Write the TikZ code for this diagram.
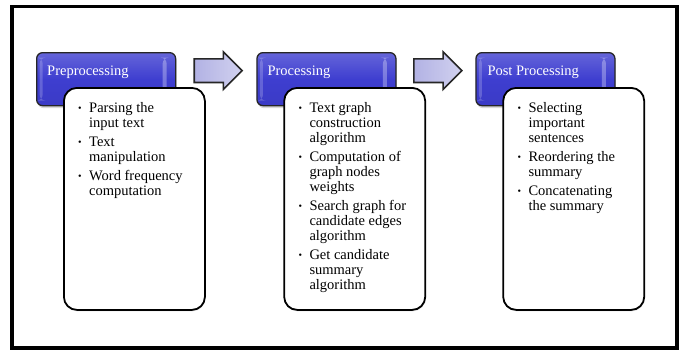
\documentclass[tikz,border=0pt]{standalone}
\usepackage{fontspec}
\setmainfont{Liberation Serif}
\usetikzlibrary{positioning}
\usetikzlibrary{calc}
\usetikzlibrary{shapes.arrows}
\usetikzlibrary{shadows}
\definecolor{headblue}{RGB}{62,62,208}
\definecolor{arrowlav}{RGB}{178,178,228}

% one bullet point, later lines hang under the text
\newcommand{\stepitem}[1]{\par\hangindent=11pt\hangafter=1\noindent\makebox[11pt][l]{\raisebox{1pt}{\fontsize{10}{10}\selectfont\textbullet}}#1\par}
\newcommand{\steplist}[1]{\parbox[t]{125pt}{\fontsize{14.5}{15}\selectfont\setlength{\parskip}{4pt}#1}}

\begin{document}
\begin{tikzpicture}[x=1pt, y=-1pt,
  frame/.style={draw=black, line width=3.5pt},
  head/.style={draw=black!85, line width=1.3pt, rounded corners=6pt,
    top color=headblue!80!white, bottom color=headblue!95!black, middle color=headblue,
    minimum width=139pt, minimum height=53pt, inner sep=0pt,
    drop shadow={opacity=0.3, shadow xshift=1pt, shadow yshift=-2.5pt},
    path picture={
      \fill[white, opacity=0.3] ([xshift=-13pt, yshift=-5pt]path picture bounding box.north east) rectangle ([xshift=-9pt, yshift=5pt]path picture bounding box.south east);
      \fill[white, opacity=0.2] ([xshift=3pt, yshift=-5pt]path picture bounding box.north west) rectangle ([xshift=6pt, yshift=5pt]path picture bounding box.south west);
    }},
  headtext/.style={anchor=base west, inner sep=0pt, text=white, font=\fontsize{14.5}{15}\selectfont},
  listbox/.style={draw=black, line width=1.8pt, rounded corners=13pt, fill=white,
    minimum width=141pt, minimum height=222pt, inner sep=0pt, anchor=north west,
    drop shadow={opacity=0.2, shadow xshift=0.5pt, shadow yshift=-1.5pt}},
  listtext/.style={anchor=base west, inner sep=0pt},
  stagearrow/.style={single arrow, draw=black!85, line width=1.6pt,
    minimum height=48pt, inner xsep=0pt, inner ysep=11pt, single arrow head extend=7pt,
    left color=arrowlav, right color=arrowlav!60!white}
]
\useasboundingbox (0,0) rectangle (687,351);

% outer frame
\draw[frame] (12,6.5) rectangle (677,348);

% stage headers
\node[head, anchor=north west] (pre) at (36,52) {};
\node[head, right=80pt of pre] (proc) {};
\node[head, right=78.7pt of proc] (post) {};

% bullet boxes
\node[listbox] (preL) at ($(pre.north west)+(27,35)$) {};
\node[listbox] (procL) at ($(proc.north west)+(27,35)$) {};
\node[listbox] (postL) at ($(post.north west)+(27,35)$) {};

% arrows between stages
\node[stagearrow] (arrA) at ($($(pre.east)!0.5!(proc.west)$)+(-4,-8.5)$) {};
\node[stagearrow] (arrB) at ($($(proc.east)!0.5!(post.west)$)+(-4,-8.5)$) {};

% header labels
\node[headtext] (preT) at ($(pre.north west)+(11,23)$) {Preprocessing};
\node[headtext] (procT) at ($(proc.north west)+(11,23)$) {Processing};
\node[headtext] (postT) at ($(post.north west)+(12,23)$) {Post Processing};

% bullet texts
\node[listtext] (preX) at ($(preL.north west)+(15,25)$) {\steplist{%
  \stepitem{Parsing the\\input text}
  \stepitem{Text\\manipulation}
  \stepitem{Word frequency\\computation}}};
\node[listtext] (procX) at ($(procL.north west)+(15,25)$) {\steplist{%
  \stepitem{Text graph\\construction\\algorithm}
  \stepitem{Computation of\\graph nodes\\weights}
  \stepitem{Search graph for\\candidate edges\\algorithm}
  \stepitem{Get candidate\\summary\\algorithm}}};
\node[listtext] (postX) at ($(postL.north west)+(15,25)$) {\steplist{%
  \stepitem{Selecting\\important\\sentences}
  \stepitem{Reordering the\\summary}
  \stepitem{Concatenating\\the summary}}};

\end{tikzpicture}
\end{document}
